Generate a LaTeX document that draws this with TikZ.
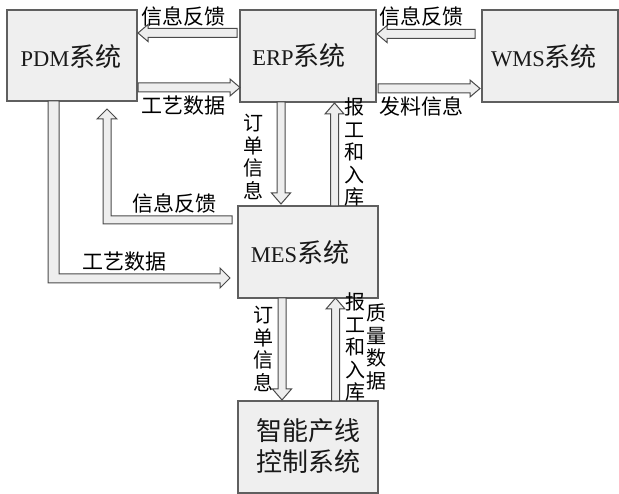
\documentclass[tikz,border=0pt]{standalone}
\usepackage{fontspec}
\setmainfont{Liberation Serif}
\newfontfamily\cjk{Noto Sans CJK SC}
\usetikzlibrary{calc}
\definecolor{boxfill}{HTML}{EFEFEF}
\definecolor{boxline}{HTML}{5F5F5F}
\definecolor{arrfill}{HTML}{EEEEEE}
\definecolor{arrline}{HTML}{4A4A4A}
% horizontal block arrow: tail x, tip x, centre y
\newcommand{\hblk}[3]{%
  \pgfmathsetmacro\bdir{sign(#2-#1)}%
  \draw[blk] (#1,#3-4.5) -- ({#2-\bdir*10},#3-4.5) -- ({#2-\bdir*10},#3-8.5) -- (#2,#3)
    -- ({#2-\bdir*10},#3+8.5) -- ({#2-\bdir*10},#3+4.5) -- (#1,#3+4.5) -- cycle;}
% vertical block arrow: centre x, tail y, tip y
\newcommand{\vblk}[3]{%
  \pgfmathsetmacro\bdir{sign(#3-#2)}%
  \draw[blk] (#1-4,#2) -- (#1-4,{#3-\bdir*11}) -- (#1-9.5,{#3-\bdir*11}) -- (#1,#3)
    -- (#1+9.5,{#3-\bdir*11}) -- (#1+4,{#3-\bdir*11}) -- (#1+4,#2) -- cycle;}
\begin{document}
\begin{tikzpicture}[x=1pt,y=-1pt,
  box/.style={draw=boxline, fill=boxfill, line width=1.2pt, inner sep=0pt},
  boxtxt/.style={inner sep=0pt, align=center, text=black!90, font=\fontsize{26}{31}\selectfont\cjk},
  blk/.style={draw=arrline, fill=arrfill, line width=1pt, line join=miter},
  lbl/.style={inner sep=0pt, align=center, font=\fontsize{21}{22.5}\selectfont\cjk},
  vlbl/.style={inner sep=0pt, align=center, font=\fontsize{20}{22.5}\selectfont\cjk}]
\useasboundingbox (0,0) rectangle (619,494);
\newcommand{\lt}[1]{{\fontsize{22.5}{26}\rmfamily\selectfont #1}}
% boxes
\node[box, minimum width=130pt, minimum height=91pt] (pdm) at (72,55.5) {};
\node[box, minimum width=136pt, minimum height=92pt] (erp) at (308,56) {};
\node[box, minimum width=136pt, minimum height=92pt] (wms) at (550,56) {};
\node[box, minimum width=140pt, minimum height=92pt] (mes) at (308,252) {};
\node[box, minimum width=140pt, minimum height=92pt] (plc) at (308,447) {};
\node[boxtxt] (pdmt) at (71,57) {\lt{PDM}系统};
\node[boxtxt] (erpt) at (299,56) {\lt{ERP}系统};
\node[boxtxt] (wmst) at (544,57) {\lt{WMS}系统};
\node[boxtxt] (mest) at (300,253) {\lt{MES}系统};
\node[boxtxt] (plct) at (308,446) {智能产线\\控制系统};
% horizontal arrows
\hblk{237}{138}{33}
\hblk{138}{240}{87.5}
\hblk{475}{377}{34}
\hblk{378}{480}{88.5}
% vertical arrows
\vblk{281}{102}{204}
\vblk{334.5}{206}{103}
\vblk{282}{298}{400}
\vblk{335.5}{401}{298}
% L-shaped arrows
\draw[blk] (48,101) -- (48,283) -- (220,283) -- (220,288) -- (230,278) -- (220,268)
  -- (220,274) -- (59,274) -- (59,101) -- cycle;
\draw[blk] (232,224) -- (103,224) -- (103,119) -- (97,119) -- (107,109) -- (117,119)
  -- (111,119) -- (111,216) -- (232,216) -- cycle;
% labels
\node[lbl] (l1) at (183,16) {信息反馈};
\node[lbl] (l2) at (183,106) {工艺数据};
\node[lbl] (l3) at (421,16) {信息反馈};
\node[lbl] (l4) at (421,106) {发料信息};
\node[lbl] (l5) at (174,203) {信息反馈};
\node[lbl] (l6) at (124,262) {工艺数据};
\node[vlbl] (v1) at (253,157) {订\\单\\信\\息};
\node[vlbl] (v2) at (354,152) {报\\工\\和\\入\\库};
\node[vlbl] (v3) at (263,349) {订\\单\\信\\息};
\node[vlbl] (v4) at (355,347) {报\\工\\和\\入\\库};
\node[vlbl] (v5) at (376,347) {质\\量\\数\\据};
\end{tikzpicture}
\end{document}
